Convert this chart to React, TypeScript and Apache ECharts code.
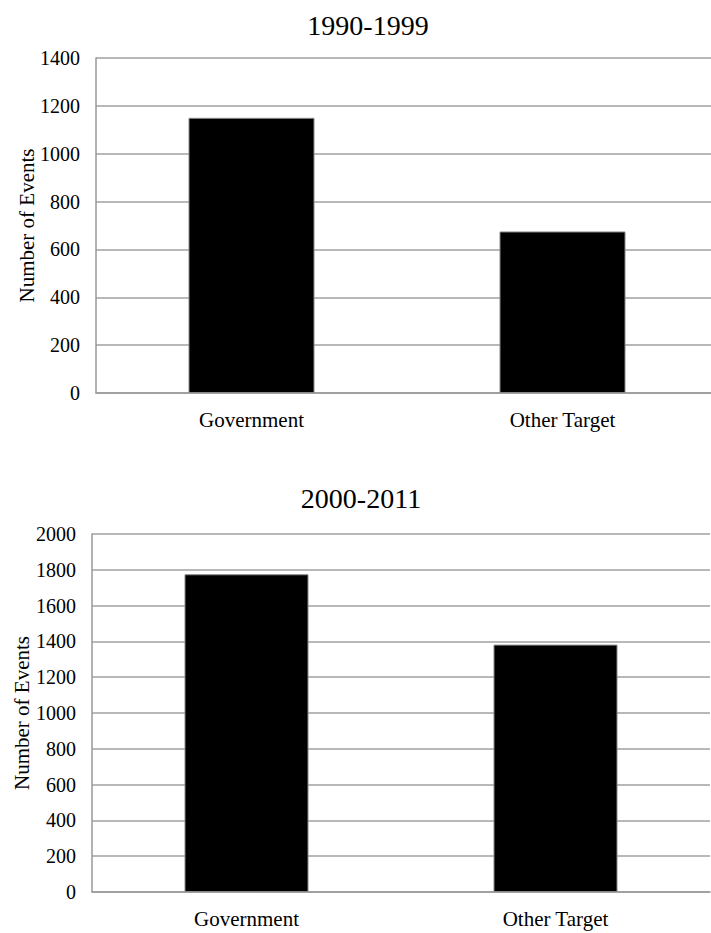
import React, { useEffect, useRef } from "react";
import * as echarts from "echarts";

const categories = ["Government", "Other Target"];
const values1990s = [1150, 675];
const values2000s = [1775, 1382];
const titles = ["1990-1999", "2000-2011"];
const yAxisName = "Number of Events";

const FONT = "'Liberation Serif', 'Times New Roman', serif";

export default function App() {
  const ref = useRef<HTMLDivElement>(null);
  useEffect(() => {
    document.body.style.margin = "0";
    const chart = echarts.init(ref.current!, undefined, { renderer: "svg" });
    const axisCommon = (max: number, gap: number) => ({
      type: "value" as const,
      min: 0,
      max,
      interval: 200,
      name: yAxisName,
      nameLocation: "middle" as const,
      nameGap: gap,
      nameMoveOverlap: false,
      nameTextStyle: { fontFamily: FONT, fontSize: 21, color: "#000" },
      axisLine: { show: true, lineStyle: { color: "#999", width: 1.5 } },
      axisTick: { show: false },
      axisLabel: {
        fontFamily: FONT,
        fontSize: 20,
        color: "#000",
        margin: 16,
        formatter: (v: number) => String(v),
      },
      splitLine: { lineStyle: { color: "#a0a0a0", width: 1.5 } },
    });
    const catAxis = {
      type: "category" as const,
      data: categories,
      axisLine: { lineStyle: { color: "#999", width: 1.5 } },
      axisTick: { show: false },
      axisLabel: { fontFamily: FONT, fontSize: 21, color: "#000", margin: 16 },
    };
    chart.setOption({
      animation: false,
      backgroundColor: "#fff",
      title: [
        {
          text: titles[0],
          left: 363,
          top: 6,
          textAlign: "center",
          textStyle: { fontFamily: FONT, fontSize: 28, fontWeight: "normal", color: "#000" },
        },
        {
          text: titles[1],
          left: 356,
          top: 479,
          textAlign: "center",
          textStyle: { fontFamily: FONT, fontSize: 28, fontWeight: "normal", color: "#000" },
        },
      ],
      grid: [
        { left: 96, top: 58, width: 622, height: 335, outerBoundsMode: "none", containLabel: false },
        { left: 92, top: 534, width: 618, height: 358, outerBoundsMode: "none", containLabel: false },
      ],
      xAxis: [
        { ...catAxis, gridIndex: 0 },
        { ...catAxis, gridIndex: 1 },
      ],
      yAxis: [
        { ...axisCommon(1400, 59), gridIndex: 0 },
        { ...axisCommon(2000, 60), gridIndex: 1 },
      ],
      series: [
        {
          type: "bar",
          xAxisIndex: 0,
          yAxisIndex: 0,
          data: values1990s,
          barWidth: 126,
          itemStyle: { color: "#000", borderColor: "#888", borderWidth: 1 },
        },
        {
          type: "bar",
          xAxisIndex: 1,
          yAxisIndex: 1,
          data: values2000s,
          barWidth: 124,
          itemStyle: { color: "#000", borderColor: "#888", borderWidth: 1 },
        },
      ],
    });
    return () => chart.dispose();
  }, []);
  return <div ref={ref} style={{ width: 711, height: 933 }} />;
}
